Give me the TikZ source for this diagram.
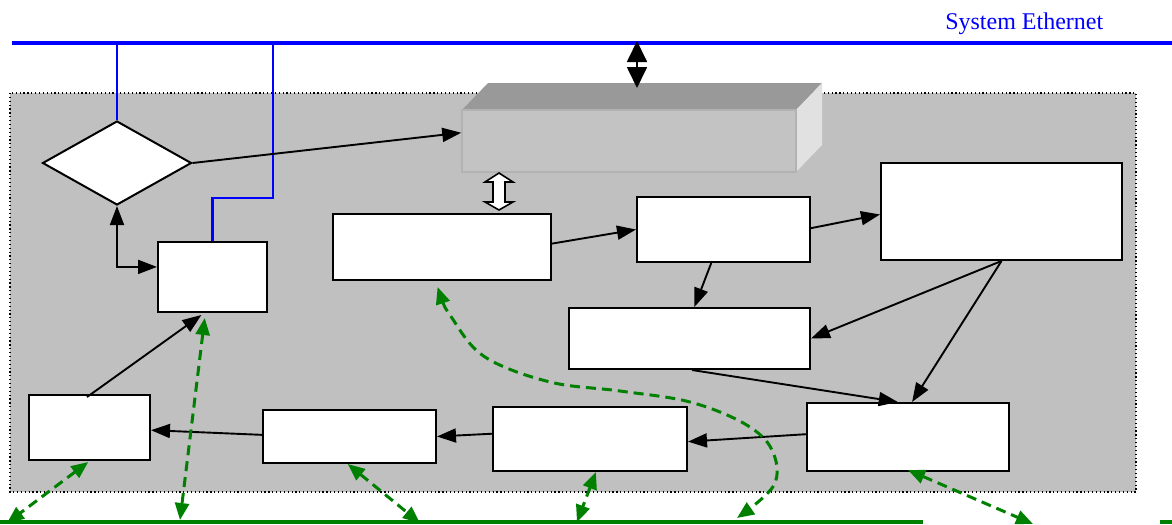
\documentclass[tikz,border=0pt]{standalone}
\usepackage{fontspec}
\setmainfont{Liberation Serif}
\usetikzlibrary{arrows.meta,shapes.geometric,fit,calc}
\newlength\pxu \setlength\pxu{0.75pt}
\definecolor{panelgray}{HTML}{C0C0C0}
\definecolor{topgray}{HTML}{999999}
\definecolor{frontgray}{HTML}{C3C3C3}
\definecolor{frontedge}{HTML}{B2B2B2}
\definecolor{sidegray}{HTML}{E1E1E1}
\definecolor{netblue}{HTML}{0000FF}
\definecolor{netgreen}{HTML}{008000}
\tikzset{gtip/.tip={Triangle[length=12.75pt,width=10.5pt]}}
\tikzset{btip/.tip={Triangle[length=15.75pt,width=15pt]}}
\begin{document}
\begin{tikzpicture}[x=0.75pt,y=-0.75pt,
  >={Triangle[length=14.25pt,width=10.5pt]},
  box/.style={draw=black, fill=white, line width=2\pxu, inner sep=0pt},
  link/.style={draw=black, line width=1.9\pxu, ->},
  twoway/.style={draw=black, line width=1.9\pxu, <->},
  glink/.style={draw=netgreen, line width=3\pxu, dash pattern=on 10\pxu off 6\pxu, gtip-gtip},
  blueline/.style={draw=netblue, line width=2.2\pxu},
  ethline/.style={draw=netblue, line width=4\pxu},
  gbus/.style={draw=netgreen, line width=3.2\pxu}]
\useasboundingbox (0,0) rectangle (1172,525);

% panel
\draw[fill=panelgray, dotted, line width=1.2\pxu] (10,93) rectangle (1136,492);

% system ethernet
\coordinate (ethL) at (12,43);
\coordinate (ethR) at (1172,43);
\draw[ethline] (ethL) -- (ethR);
\node[text=netblue, font=\fontsize{18}{20}\selectfont, anchor=base west, inner sep=0pt] (eth) at (945,29) {System Ethernet};

% green bus
\coordinate (gbL) at (0,522);
\coordinate (gbM) at (923,522);
\coordinate (gbN) at (1160,522);
\coordinate (gbR) at (1172,522);
\draw[gbus] (gbL) -- (gbM);
\draw[gbus] (gbN) -- (gbR);

% 3D block
\fill[topgray] (462,110) -- (488,83) -- (822,83) -- (796,110) -- cycle;
\fill[sidegray] (796,110) -- (822,83) -- (822,145) -- (796,172) -- cycle;
\node[fit={(462,110) (796,172)}, inner sep=0pt, fill=frontgray, draw=frontedge, line width=1.5\pxu] (front) {};

% nodes
\node[diamond, draw=black, fill=white, line width=2\pxu, inner sep=0pt, minimum width=149\pxu, minimum height=84\pxu] (dia) at (117,163) {};
\node[box, fit={(158,242) (267,312)}] (A) {};
\node[box, fit={(333,214) (551,280)}] (B) {};
\node[box, fit={(637,197) (810,262)}] (C) {};
\node[box, fit={(881,163) (1122,260)}] (D) {};
\node[box, fit={(569,308) (810,369)}] (E) {};
\node[box, fit={(807,403) (1009,471)}] (F) {};
\node[box, fit={(493,407) (687,471)}] (G) {};
\node[box, fit={(263,410) (436,463)}] (H) {};
\node[box, fit={(29,395) (150,460)}] (I) {};

% blue drops
\draw[blueline] (dia.north |- ethL) -- (dia.north);
\draw[blueline] (273,43) -- (273,198) -| (A.north);

% black double arrow to ethernet
\coordinate (dbt) at (637,41);
\coordinate (dbb) at (637,88);
\draw[line width=1.8\pxu, btip-btip] (dbt) -- (dbb);

% hollow double arrow
\draw[fill=white, line width=1.6\pxu, line join=miter]
  (499,173) -- (513,182) -- (505,182) -- (505,202) -- (513,202) -- (499,210)
  -- (485,202) -- (493,202) -- (493,182) -- (485,182) -- cycle;

% black arrows
\draw[link] (dia.east) -- ($(front.north west)!0.37!(front.south west)$);
\draw[twoway] (dia.south) |- ($(A.north west)!0.36!(A.south west)$);
\draw[link] ($(B.north east)!0.45!(B.south east)$) -- (C.west);
\draw[link] ($(C.north east)!0.48!(C.south east)$) -- ($(D.north west)!0.53!(D.south west)$);
\draw[link] ($(C.south west)!0.43!(C.south east)$) -- ($(E.north west)!0.52!(E.north east)$);
\draw[link] (D.south) -- ($(E.north east)!0.5!(E.south east)$);
\draw[link] (D.south) -- ($(F.north west)!0.52!(F.north east)$);
\draw[link] ($(E.south west)!0.51!(E.south east)$) -- ($(F.north west)!0.45!(F.north east)$);
\draw[link] ($(F.north west)!0.46!(F.south west)$) -- ($(G.north east)!0.54!(G.south east)$);
\draw[link] ($(G.north west)!0.42!(G.south west)$) -- ($(H.north east)!0.5!(H.south east)$);
\draw[link] ($(H.north west)!0.47!(H.south west)$) -- ($(I.north east)!0.54!(I.south east)$);
\draw[link] ($(I.north west)!0.48!(I.north east)+(0,3)$) -- ($(A.south west)!0.4!(A.south east)+(0,2)$);

% green dashed links
\coordinate (g1) at (7,523);
\coordinate (g2) at (180,520);
\coordinate (g3) at (420,523);
\coordinate (g4) at (577,522);
\coordinate (g5) at (737,518);
\coordinate (g6) at (1033,524);
\draw[glink] ($(I.south west)!0.49!(I.south east)+(0,1)$) -- (g1);
\draw[glink] ($(A.south west)!0.43!(A.south east)+(0,5)$) -- (g2);
\draw[glink] ($(H.south west)!0.49!(H.south east)$) -- (g3);
\draw[glink] ($(G.south west)!0.53!(G.south east)$) -- (g4);
\draw[glink] ($(F.south west)!0.5!(F.south east)+(0,-2)$) -- (g6);
\coordinate (cb) at ($(B.south west)!0.48!(B.south east)+(0,6)$);
\draw[glink] plot[smooth, tension=0.6] coordinates {(cb) (452,318) (485,357) (550,382) (620,391) (690,402) (745,424) (772,450) (774,485) (g5)};
\end{tikzpicture}
\end{document}
